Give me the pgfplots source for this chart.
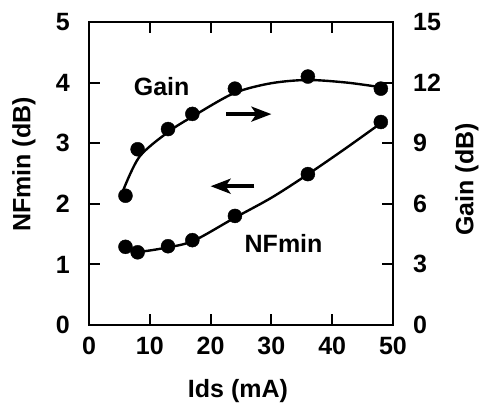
\documentclass[border=0pt]{standalone}
\usepackage{fontspec}
\setmainfont{Liberation Sans}
\usepackage{pgfplots}
\pgfplotsset{compat=1.18}
\usetikzlibrary{calc,arrows.meta}

\newcommand{\lbl}{\fontsize{25}{29}\selectfont\bfseries}

\begin{document}
\begin{tikzpicture}
\tikzset{arr/.style={line width=3.5pt, -{Stealth[length=20pt, width=15pt, inset=5pt]}}}
\pgfplotsset{
  common/.style={
    scale only axis, width=304pt, height=303pt,
    xmin=0, xmax=50,
    tick align=inside, major tick length=11pt,
    axis line style={line width=2.2pt},
    every tick/.style={line width=2pt, black},
    tick label style={font=\lbl, inner sep=0pt},
    /pgf/number format/assume math mode=true,
    clip=false,
  },
  fitline/.style={line width=2.4pt, smooth, tension=0.5},
  pts/.style={only marks, mark=*, mark size=7pt, fill=black},
}
% left axis: NFmin
\begin{axis}[common, name=ax,
    ymin=0, ymax=5,
    xtick={0,10,...,50}, ytick={0,1,...,5},
    xtick pos=both, ytick pos=left,
    yticklabel style={xshift=-19pt},
    xticklabel style={yshift=-12pt},
    xlabel={Ids (mA)}, ylabel={NFmin (dB)},
    every axis x label/.style={at={(axis description cs:0.49,-0.218)}, anchor=center, font=\lbl},
    every axis y label/.style={at={(axis description cs:-0.214,0.53)}, rotate=90, anchor=center, font=\lbl},
]
  % fitted curve
  \addplot[fitline] coordinates {
    (5.9,1.28) (8.1,1.21) (12.9,1.28) (17.2,1.39) (23.8,1.76) (30,2.1) (35.9,2.48) (42,2.9) (48,3.33)};
  % measured points
  \addplot[pts] coordinates {
    (6,1.29) (8,1.20) (13,1.30) (17,1.40) (24,1.80) (36,2.49) (48,3.35)};
  \draw[arr] (axis cs:22.6,3.48) -- (axis cs:30.0,3.48);
  \draw[arr] (axis cs:27.2,2.29) -- (axis cs:20.0,2.29);
  \node[font=\lbl] at (axis cs:11.95,3.94) {Gain};
  \node[font=\lbl] at (axis cs:32,1.35) {NFmin};
\end{axis}
% right axis: Gain
\begin{axis}[common,
    ymin=0, ymax=15,
    axis x line=none, axis y line*=right,
    ytick={0,3,...,15},
    yticklabel style={xshift=20pt},
    ylabel={Gain (dB)},
    every axis y label/.style={at={(axis description cs:1.243,0.48)}, rotate=90, anchor=center, font=\lbl},
]
  \addplot[fitline] coordinates {
    (5.6,6.65) (8.3,8.33) (13,9.55) (17.2,10.35) (23.8,11.47) (29.8,11.96) (35.9,12.13) (42.4,12.0) (48,11.77)};
  \addplot[pts] coordinates {
    (6,6.4) (8,8.7) (13,9.7) (17,10.45) (24,11.7) (36,12.3) (48,11.7)};
\end{axis}
\pgfresetboundingbox
\path[use as bounding box] ($(ax.south west)+(-89pt,-78pt)$) rectangle ($(ax.north east)+(89pt,22pt)$);
\end{tikzpicture}
\end{document}
